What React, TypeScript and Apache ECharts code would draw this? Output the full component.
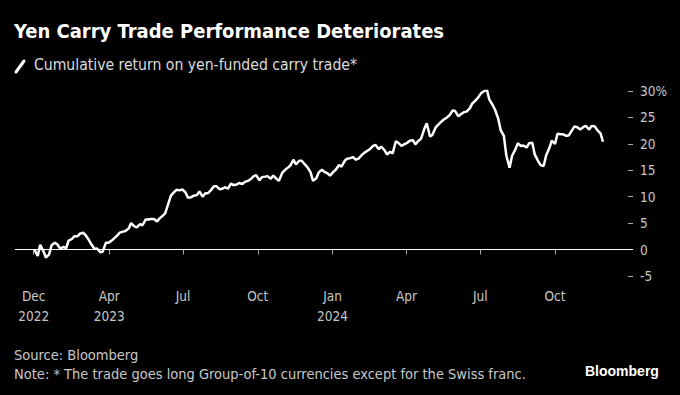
import React, { useEffect, useRef } from "react";
import * as echarts from "echarts";

// Sampled twice a week (Fri, Tue, Fri, ...) starting 2022-12-30
const startDate = "2022-12-30";
const returnValues = [
  0.0, -1.2, 0.9, -0.3, -1.5, -0.9, 0.8, 1.3, 1.0, 0.1,
  0.5, 0.3, 1.7, 2.0, 2.5, 2.5, 3.0, 3.2, 2.7, 1.8,
  1.0, 0.1, 0.2, -0.5, -0.4, 1.3, 1.3, 1.7, 2.1, 2.7,
  3.2, 3.4, 3.5, 4.0, 5.0, 4.4, 4.2, 4.8, 4.6, 5.7,
  5.7, 5.8, 5.8, 5.3, 5.9, 6.4, 6.9, 8.8, 10.2, 10.9,
  11.3, 11.2, 11.4, 10.8, 9.8, 9.9, 10.2, 10.3, 11.0, 10.0,
  10.6, 10.7, 11.2, 12.0, 12.0, 11.4, 11.5, 11.8, 11.5, 12.5,
  12.2, 12.3, 12.6, 12.4, 12.8, 13.0, 13.3, 13.9, 14.1, 13.1,
  13.7, 13.8, 13.9, 13.4, 14.0, 13.4, 13.0, 14.5, 15.0, 15.5,
  15.9, 17.0, 16.1, 16.8, 16.8, 16.1, 15.6, 14.6, 13.0, 13.5,
  14.6, 15.1, 14.7, 14.4, 14.0, 14.7, 15.1, 16.0, 15.7, 16.8,
  17.2, 17.3, 17.5, 17.0, 17.2, 17.9, 18.3, 18.7, 19.0, 19.6,
  19.8, 19.0, 19.5, 18.8, 18.0, 18.5, 18.2, 20.5, 20.2, 19.6,
  19.9, 20.2, 20.6, 20.7, 19.9, 20.6, 21.0, 22.8, 23.9, 21.4,
  21.7, 23.1, 23.6, 24.2, 24.6, 25.0, 25.4, 26.3, 26.2, 25.2,
  25.6, 26.0, 26.1, 26.7, 27.6, 28.2, 28.7, 29.6, 29.9, 30.3,
  28.4, 27.4, 26.5, 24.8, 22.6, 21.5, 17.8, 15.5, 17.7, 18.9,
  20.1, 19.6, 19.7, 19.3, 20.1, 20.2, 18.0, 16.8, 16.0, 15.8,
  17.8, 19.2, 20.6, 20.0, 21.9, 21.8, 21.8, 21.5, 21.6, 22.6,
  23.3, 23.1, 22.7, 23.2, 23.4, 22.7, 23.4, 23.3, 22.6, 22.0,
  20.4,
];

const xTickDates = ["2022-12-29", "2023-04-01", "2023-07-01", "2023-10-01", "2024-01-01", "2024-04-01", "2024-07-01", "2024-10-01"];
const xTickLabels = ["Dec\n2022", "Apr\n2023", "Jul", "Oct", "Jan\n2024", "Apr", "Jul", "Oct"];
const yTicks = [-5, 0, 5, 10, 15, 20, 25, 30];

const title = "Yen Carry Trade Performance Deteriorates";
const legendLabel = "Cumulative return on yen-funded carry trade*";
const sourceText = "Source: Bloomberg";
const noteText = "Note: * The trade goes long Group-of-10 currencies except for the Swiss franc.";

function toTs(s: string) {
  const [y, m, d] = s.split("-").map(Number);
  return Date.UTC(y, m - 1, d);
}

export default function App() {
  const ref = useRef<HTMLDivElement>(null);
  useEffect(() => {
    document.body.style.margin = "0";
    document.body.style.background = "#000000";
    if (!ref.current) return;
    const chart = echarts.init(ref.current, null, { renderer: "svg" });
    const day = 86400000;
    let t = toTs(startDate);
    const data: [number, number][] = [];
    returnValues.forEach((v, i) => {
      data.push([t, v]);
      t += (i % 2 === 0 ? 4 : 3) * day;
    });
    const tickTs = xTickDates.map(toTs);
    const cond = '"DejaVu Sans Condensed", "DejaVu Sans", sans-serif';
    const logoFont = '"Liberation Sans", Arial, sans-serif';
    chart.setOption({
      animation: false,
      backgroundColor: "#000000",
      grid: { left: 15, right: 47, top: 91, bottom: 119, outerBoundsMode: "none" },
      xAxis: {
        type: "value",
        min: toTs("2022-12-06"),
        max: toTs("2025-01-05"),
        offset: 2,
        axisLine: { show: false },
        splitLine: { show: false },
        axisTick: { show: true, length: 5, lineStyle: { color: "#aaaaaa" }, customValues: tickTs },
        axisLabel: {
          customValues: tickTs,
          color: "#c8c8c8",
          fontSize: 13.5,
          lineHeight: 20,
          fontFamily: cond,
          margin: 8,
          formatter: (val: number) => {
            let best = 0;
            let bd = Infinity;
            tickTs.forEach((tt, i) => {
              const d = Math.abs(tt - val);
              if (d < bd) { bd = d; best = i; }
            });
            return xTickLabels[best];
          },
        },
      },
      yAxis: {
        type: "value",
        position: "right",
        min: yTicks[0],
        max: yTicks[yTicks.length - 1],
        interval: 5,
        axisLine: { show: false },
        splitLine: { show: false },
        axisTick: { show: true, inside: true, length: 5, lineStyle: { color: "#aaaaaa" } },
        axisLabel: {
          color: "#c8c8c8",
          fontSize: 13.5,
          fontFamily: cond,
          margin: 7,
          formatter: (v: number) => (v === 30 ? "30%" : String(v)),
        },
      },
      series: [
        {
          type: "line",
          data,
          showSymbol: false,
          lineStyle: { color: "#ffffff", width: 2.5 },
          z: 3,
          markLine: {
            silent: true,
            symbol: "none",
            label: { show: false },
            lineStyle: { color: "#ffffff", width: 1, type: "solid" },
            data: [{ yAxis: 0 }],
            z: 2,
          },
        },
      ],
      graphic: [
        {
          type: "text",
          left: 14,
          top: 21,
          style: { text: title, fill: "#ffffff", font: `bold 20px ${cond}` },
        },
        {
          type: "line",
          shape: { x1: 16, y1: 72, x2: 24, y2: 61 },
          style: { stroke: "#ffffff", lineWidth: 3, lineCap: "round" },
        },
        {
          type: "text",
          left: 34,
          top: 57,
          style: { text: legendLabel, fill: "#dddddd", font: `15.6px ${cond}` },
        },
        {
          type: "text",
          left: 14,
          top: 347,
          style: { text: sourceText, fill: "#c8c8c8", font: `14.5px ${cond}` },
        },
        {
          type: "text",
          left: 14,
          top: 366,
          style: { text: noteText, fill: "#c8c8c8", font: `14.5px ${cond}` },
        },
        {
          type: "text",
          left: 585,
          top: 364,
          style: { text: "Bloomberg", fill: "#ffffff", font: `bold 14px ${logoFont}` },
        },
      ],
    });
    return () => chart.dispose();
  }, []);
  return <div ref={ref} style={{ width: 680, height: 395 }} />;
}
